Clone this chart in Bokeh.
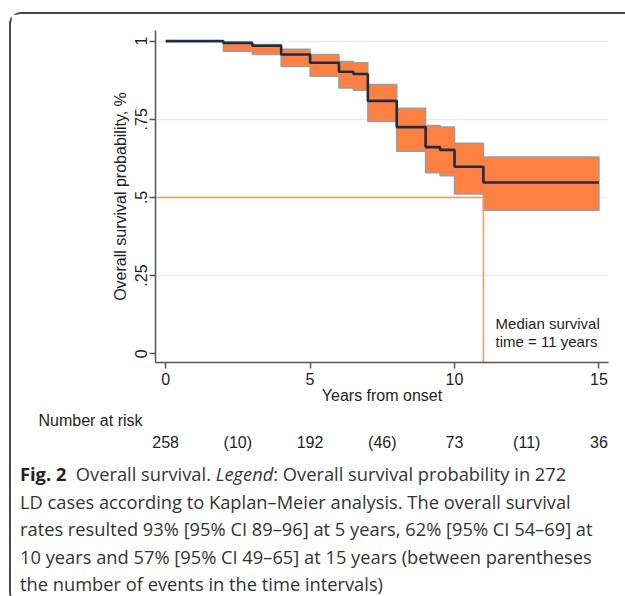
from bokeh.plotting import figure
from bokeh.models import Range1d, FixedTicker, Label, Div, LinearAxis, Title
from bokeh.layouts import column
from bokeh.embed import file_html
from bokeh.resources import INLINE

# ---- data ----
times = [0, 2, 3, 4, 5, 6, 6.5, 7, 8, 9, 9.5, 10, 11, 15]
survival = [1.0, 0.994, 0.985, 0.957, 0.931, 0.902, 0.895, 0.809, 0.725, 0.661, 0.652, 0.598, 0.548, 0.548]
ci_times = [2, 3, 4, 5, 6, 6.5, 7, 8, 9, 9.5, 10, 11, 15]
ci_upper = [0.998, 0.989, 0.974, 0.957, 0.935, 0.931, 0.861, 0.785, 0.730, 0.725, 0.673, 0.629, 0.629]
ci_lower = [0.968, 0.957, 0.919, 0.888, 0.850, 0.843, 0.743, 0.648, 0.579, 0.569, 0.511, 0.459, 0.459]
median_time = 11
median_prob = 0.5
x_ticks = [0, 5, 10, 15]
y_ticks = [0, 0.25, 0.5, 0.75, 1]
y_tick_labels = ["0", ".25", ".5", ".75", "1"]
grid_ticks = [0.25, 0.5, 0.75, 1]
risk_times = [0, 2.5, 5, 7.5, 10, 12.5, 15]
risk_labels = ["258", "(10)", "192", "(46)", "73", "(11)", "36"]
risk_title = "Number at risk"

FONT = "Liberation Sans"
TXT = "#1e1e1e"
W = 612

p = figure(width=W, height=440, output_backend="svg", toolbar_location=None,
           x_range=Range1d(-0.35, 15.33), y_range=Range1d(-0.028, 1.034),
           min_border_left=144, min_border_right=15, min_border_top=16,
           min_border_bottom=92)
p.outline_line_color = None
p.background_fill_color = "white"
p.border_fill_color = "white"

# gridlines
p.xgrid.visible = False
p.ygrid.ticker = FixedTicker(ticks=grid_ticks)
p.ygrid.grid_line_color = "#e6edf0"
p.ygrid.grid_line_width = 1.5

# confidence band polygon built from step data
band_x, band_y = [], []
for i in range(len(ci_times) - 1):
    band_x += [ci_times[i], ci_times[i + 1]]
    band_y += [ci_upper[i], ci_upper[i]]
for i in reversed(range(len(ci_times) - 1)):
    band_x += [ci_times[i + 1], ci_times[i]]
    band_y += [ci_lower[i], ci_lower[i]]
p.patch(band_x, band_y, fill_color="#ff8040", fill_alpha=1.0,
        line_color="#9c9c9c", line_width=1.5)

# median lines
p.line([p.x_range.start, median_time, median_time],
       [median_prob, median_prob, p.y_range.start],
       line_color="#f7995a", line_width=1.5)

# survival curve
p.step(times, survival, mode="after", line_color="#1b2e48", line_width=2.6)


def style_axis(ax):
    ax.axis_line_color = "#555555"
    ax.axis_line_width = 1.5
    ax.major_tick_line_color = "#555555"
    ax.major_tick_line_width = 1.5
    ax.major_tick_out = 6
    ax.major_tick_in = 0
    ax.minor_tick_line_color = None
    ax.major_label_text_font = FONT
    ax.major_label_text_font_size = "16px"
    ax.major_label_text_color = TXT
    ax.axis_label_text_font = FONT
    ax.axis_label_text_font_size = "16px"
    ax.axis_label_text_font_style = "normal"
    ax.axis_label_text_color = TXT


style_axis(p.xaxis[0])
style_axis(p.yaxis[0])

p.xaxis.ticker = FixedTicker(ticks=x_ticks)
p.xaxis.axis_label = "Years from onset"
p.xaxis.major_label_standoff = 4
p.xaxis.axis_label_standoff = -1

p.yaxis.ticker = FixedTicker(ticks=y_ticks)
p.yaxis.major_label_overrides = dict(zip(y_ticks, y_tick_labels))
p.yaxis.major_label_orientation = "vertical"
p.yaxis.major_label_standoff = 2
p.yaxis.axis_label = "Overall survival probability, %"
p.yaxis.axis_label_standoff = 4

# number at risk: a title row and a label-only axis on the same x scale
p.add_layout(Title(text=risk_title, align="left", offset=-117, standoff=6,
                   text_font=FONT, text_font_size="16px", text_font_style="normal",
                   text_color=TXT), "below")
risk_axis = LinearAxis(ticker=FixedTicker(ticks=risk_times),
                       major_label_overrides=dict(zip(risk_times, risk_labels)))
style_axis(risk_axis)
risk_axis.axis_line_color = None
risk_axis.major_tick_line_color = None
risk_axis.major_tick_out = 0
risk_axis.major_label_standoff = 2
p.add_layout(risk_axis, "below")

# median annotation
p.add_layout(Label(x=11.42, y=0.096, text="Median survival", text_font=FONT,
                   text_font_size="15px", text_color=TXT, text_baseline="middle"))
p.add_layout(Label(x=11.42, y=0.040, text="time = 11 years", text_font=FONT,
                   text_font_size="15px", text_color=TXT, text_baseline="middle"))

caption_html = (
    "<div style=\"font-family:'Open Sans';font-size:18.3px;line-height:27.5px;color:#333;"
    "white-space:nowrap;padding:1px 0 0 4px;margin:0;\">"
    "<b style='color:#222'>Fig. 2</b>&nbsp; Overall survival. <i>Legend</i>: Overall survival probability in 272<br>"
    "LD cases according to Kaplan–Meier analysis. The overall survival<br>"
    "rates resulted 93% [95% CI 89–96] at 5 years, 62% [95% CI 54–69] at<br>"
    "10 years and 57% [95% CI 49–65] at 15 years (between parentheses<br>"
    "the number of events in the time intervals)</div>"
)
caption = Div(text=caption_html, width=W, height=140)

layout = column(p, caption, spacing=0,
                styles={"margin-top": "12px", "margin-left": "9px",
                        "border-top": "2px solid #4a4a4a", "border-left": "2px solid #4a4a4a",
                        "border-top-left-radius": "12px", "border-bottom-left-radius": "12px"})

open("out.html", "w").write(file_html(layout, INLINE))
